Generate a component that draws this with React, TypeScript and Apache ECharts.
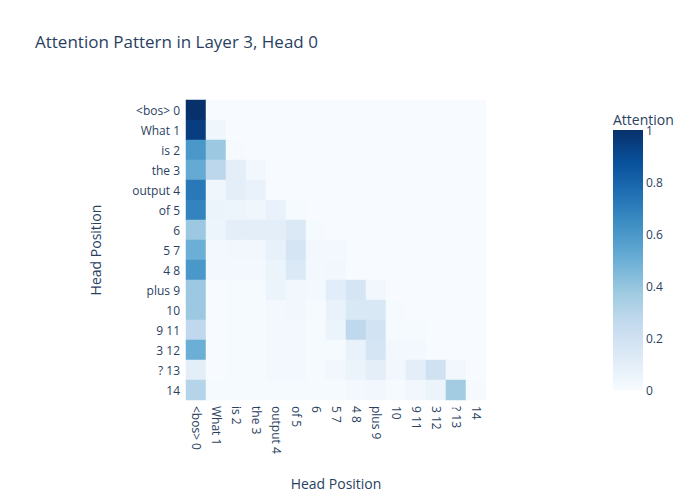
import { FC, useEffect, useRef } from "react";
import * as echarts from "echarts";

const labels = ["<bos> 0", "What 1", "is 2", "the 3", "output 4", "of 5", "6", "5 7", "4 8", "plus 9", "10", "9 11", "3 12", "? 13", "14"];

// attention rows (query position), lower triangle
const rows: number[][] = [
  [1],
  [0.95, 0.04],
  [0.6, 0.38, 0.01],
  [0.52, 0.28, 0.1, 0.03],
  [0.72, 0.04, 0.1, 0.07],
  [0.68, 0.06, 0.05, 0.04, 0.07, 0.01],
  [0.38, 0.05, 0.1, 0.1, 0.1, 0.14, 0.01],
  [0.5, 0.02, 0.03, 0.03, 0.08, 0.17, 0.02, 0.02],
  [0.6, 0.02, 0.02, 0.02, 0.06, 0.14, 0.02, 0.03, 0],
  [0.38, 0, 0.01, 0.01, 0.06, 0.03, 0.02, 0.11, 0.17, 0.03],
  [0.38, 0, 0.01, 0.01, 0.02, 0.03, 0.01, 0.07, 0.15, 0.15, 0.01],
  [0.27, 0, 0.01, 0.01, 0.02, 0.02, 0.01, 0.06, 0.27, 0.19, 0.01, 0.01],
  [0.5, 0, 0.01, 0.01, 0.02, 0.02, 0.01, 0.01, 0.07, 0.17, 0.02, 0.02, 0],
  [0.1, 0, 0.01, 0.01, 0.02, 0.02, 0.01, 0.03, 0.06, 0.1, 0.03, 0.1, 0.2, 0.03],
  [0.3, 0.01, 0.01, 0.01, 0.01, 0.01, 0.01, 0.01, 0.02, 0.03, 0.01, 0.03, 0.06, 0.36, 0.01],
];

const colorTicks = [0, 0.2, 0.4, 0.6, 0.8, 1];
const blues = ["#f7fbff", "#deebf7", "#c6dbef", "#9ecae1", "#6baed6", "#4292c6", "#2171b5", "#08519c", "#08306b"];

const App: FC = () => {
  const ref = useRef<HTMLDivElement>(null);

  useEffect(() => {
    if (!ref.current) return;
    const chart = echarts.init(ref.current, undefined, { renderer: "svg" });
    const data: [number, number, number][] = [];
    for (let r = 0; r < labels.length; r++) {
      for (let c = 0; c < labels.length; c++) {
        data.push([c, r, rows[r][c] ?? 0]);
      }
    }
    const txt = "#2a3f5f";
    const font = "Open Sans, sans-serif";
    const barTop = 130, barH = 260, barX = 613, barW = 30;
    chart.setOption({
      animation: false,
      textStyle: { fontFamily: font },
      title: {
        text: "Attention Pattern in Layer 3, Head 0",
        left: 30, top: 28,
        textStyle: { fontSize: 17, fontWeight: "normal", color: txt },
      },
      grid: { left: 186, top: 100, width: 300, height: 300 },
      xAxis: {
        type: "category", data: labels, position: "bottom",
        name: "Head Position", nameLocation: "middle", nameGap: 76,
        nameTextStyle: { fontSize: 14, color: txt },
        axisLine: { show: false }, axisTick: { show: false },
        axisLabel: { rotate: -90, color: txt, fontSize: 12, interval: 0, margin: 6 },
      },
      yAxis: {
        type: "category", data: labels, inverse: true,
        name: "Head Position", nameLocation: "middle", nameGap: 84,
        nameTextStyle: { fontSize: 14, color: txt },
        axisLine: { show: false }, axisTick: { show: false },
        axisLabel: { color: txt, fontSize: 12, interval: 0, margin: 6 },
      },
      visualMap: {
        type: "continuous", min: 0, max: 1, show: false,
        inRange: { color: blues },
      },
      series: [{ type: "heatmap", data, itemStyle: { borderWidth: 0 } }],
      graphic: [
        {
          type: "rect",
          shape: { x: barX, y: barTop, width: barW, height: barH },
          style: {
            fill: new echarts.graphic.LinearGradient(0, 1, 0, 0,
              blues.map((c, i) => ({ offset: i / (blues.length - 1), color: c }))),
          },
        },
        { type: "text", x: barX, y: 112, style: { text: "Attention", fontSize: 14, fill: txt, fontFamily: font } },
        ...colorTicks.map((v) => ({
          type: "text", x: barX + barW + 3, y: barTop + barH - v * barH,
          style: { text: String(v), fontSize: 12, fill: txt, verticalAlign: "middle", fontFamily: font },
        })),
      ],
    });
    return () => chart.dispose();
  }, []);

  return <div ref={ref} style={{ width: 700, height: 500, margin: -8 }} />;
};

export default App;
